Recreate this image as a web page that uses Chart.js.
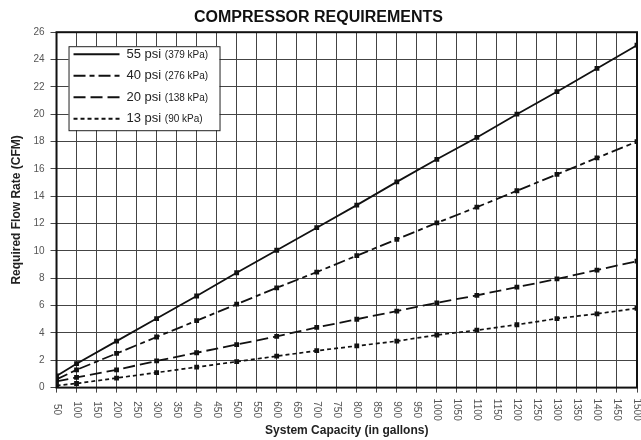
<!DOCTYPE html>
<html>
<head>
<meta charset="utf-8">
<script src="https://cdn.jsdelivr.net/npm/chart.js@4"></script>
<style>
  body { margin: 0; background: #fff; }
  #box { width: 641px; height: 440px; }
</style>
</head>
<body>
<div id="box"><canvas id="myChart"></canvas></div>
<script>
// system capacity (gallons)
const capacity = [50, 100, 200, 300, 400, 500, 600, 700, 800, 900, 1000, 1100, 1200, 1300, 1400, 1500];

// required flow rate (CFM)
const psi55 = [0.85, 1.75, 3.4, 5.05, 6.7, 8.4, 10.05, 11.7, 13.35, 15.05, 16.7, 18.3, 20.0, 21.65, 23.35, 25.05];
const psi40 = [0.6, 1.3, 2.5, 3.7, 4.9, 6.1, 7.3, 8.45, 9.65, 10.85, 12.05, 13.2, 14.4, 15.6, 16.8, 18.0];
const psi20 = [0.45, 0.75, 1.3, 1.95, 2.55, 3.15, 3.75, 4.4, 5.0, 5.6, 6.2, 6.75, 7.35, 7.95, 8.6, 9.25];
const psi13 = [0.15, 0.3, 0.7, 1.1, 1.5, 1.9, 2.3, 2.7, 3.05, 3.4, 3.85, 4.2, 4.6, 5.05, 5.4, 5.8];

const seriesNames = ['55 psi', '40 psi', '20 psi', '13 psi'];
const seriesKpa = ['(379 kPa)', '(276 kPa)', '(138 kPa)', '(90 kPa)'];

const FONT = "'Liberation Sans', Arial, sans-serif";

function serie(i, valores, dash, largura) {
    return {
        label: seriesNames[i],
        kpa: seriesKpa[i],
        data: capacity.map((c, k) => ({ x: c, y: valores[k] })),
        borderColor: '#111',
        backgroundColor: '#111',
        borderWidth: largura,
        borderDash: dash,
        pointStyle: 'rect',
        pointRadius: 3.4,
        pointBorderWidth: 0,
        tension: 0
    };
}

// legend box drawn inside the plot
const legendBox = {
    id: 'legendBox',
    afterDatasetsDraw(chart) {
        const ctx = chart.ctx;
        const x0 = chart.chartArea.left + 12;
        const y0 = chart.chartArea.top + 14;
        const w = 151, h = 84;
        ctx.save();
        ctx.fillStyle = '#fff';
        ctx.fillRect(x0, y0, w, h);
        ctx.strokeStyle = '#222';
        ctx.lineWidth = 1;
        ctx.strokeRect(x0 + 0.5, y0 + 0.5, w, h);
        chart.data.datasets.forEach(function (ds, i) {
            const ly = y0 + 8 + i * 21.5;
            ctx.beginPath();
            ctx.setLineDash(ds.borderDash || []);
            ctx.lineWidth = 2;
            ctx.strokeStyle = '#111';
            ctx.moveTo(x0 + 5, ly);
            ctx.lineTo(x0 + 51, ly);
            ctx.stroke();
            ctx.setLineDash([]);
            ctx.fillStyle = '#222';
            ctx.textBaseline = 'middle';
            ctx.textAlign = 'left';
            ctx.font = '13px ' + FONT;
            ctx.fillText(ds.label, x0 + 58, ly);
            const tw = ctx.measureText(ds.label + ' ').width;
            ctx.font = '10px ' + FONT;
            ctx.fillText(ds.kpa, x0 + 58 + tw, ly + 1);
        });
        ctx.restore();
    }
};

// thick frame + x labels turned clockwise (read top to bottom)
const frame = {
    id: 'frame',
    afterDraw(chart) {
        const a = chart.chartArea;
        const ctx = chart.ctx;
        const sx = chart.scales.x;
        ctx.save();
        ctx.strokeStyle = '#111';
        ctx.lineWidth = 2;
        ctx.strokeRect(a.left, a.top, a.right - a.left, a.bottom - a.top);

        ctx.fillStyle = '#555';
        ctx.font = '10px ' + FONT;
        ctx.textAlign = 'center';
        ctx.textBaseline = 'middle';
        sx.ticks.forEach(function (t) {
            const px = sx.getPixelForValue(t.value);
            ctx.save();
            ctx.translate(px, a.bottom + 22);
            ctx.rotate(Math.PI / 2);
            ctx.fillText(String(t.value), 0, 0);
            ctx.restore();
        });
        ctx.restore();
    }
};

const config = {
    type: 'line',
    data: {
        datasets: [
            serie(0, psi55, [], 1.8),
            serie(1, psi40, [12, 4, 5, 4], 1.8),
            serie(2, psi20, [12, 5], 1.8),
            serie(3, psi13, [4, 3], 1.7)
        ]
    },
    options: {
        responsive: true,
        maintainAspectRatio: false,
        animation: false,
        layout: { padding: { left: 0, right: 4, top: 0, bottom: 0 } },
        plugins: {
            legend: { display: false },
            tooltip: { enabled: false },
            title: {
                display: true,
                text: 'COMPRESSOR REQUIREMENTS',
                color: '#111',
                font: { family: FONT, size: 16, weight: 'bold' },
                padding: { top: 8, bottom: 5 }
            }
        },
        scales: {
            x: {
                type: 'linear',
                min: 50,
                max: 1500,
                ticks: {
                    stepSize: 50,
                    display: false
                },
                grid: { color: '#444', lineWidth: 1, tickLength: 5 },
                border: { display: false },
                title: {
                    display: true,
                    text: 'System Capacity (in gallons)',
                    color: '#222',
                    font: { family: FONT, size: 12, weight: 'bold' },
                    padding: { top: 31, bottom: 2 }
                }
            },
            y: {
                min: 0,
                max: 26,
                ticks: {
                    stepSize: 2,
                    color: '#555',
                    font: { family: FONT, size: 10 },
                    padding: 6
                },
                grid: { color: '#444', lineWidth: 1, tickLength: 6 },
                border: { display: false },
                title: {
                    display: true,
                    text: 'Required Flow Rate (CFM)',
                    color: '#222',
                    font: { family: FONT, size: 12, weight: 'bold' },
                    padding: { top: 9, bottom: 4 }
                }
            }
        }
    },
    plugins: [frame, legendBox]
};

const myChart = new Chart(document.getElementById('myChart'), config);
</script>
</body>
</html>
